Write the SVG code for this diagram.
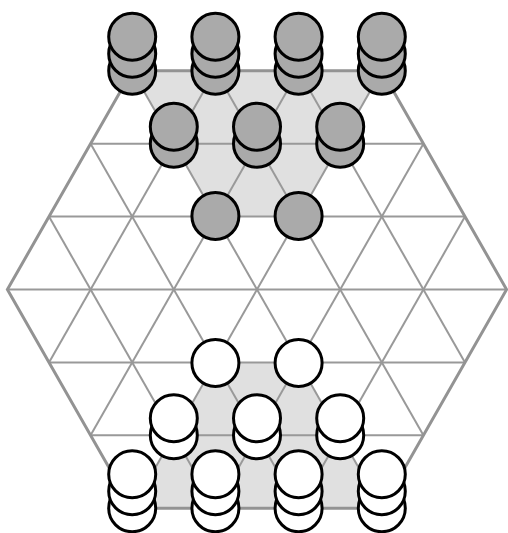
<svg xmlns="http://www.w3.org/2000/svg" width="508" height="533" viewBox="0 0 508 533">
<style>
.zone{fill:#e0e0e0;stroke:none}
.grid line{stroke:#999999;stroke-width:2}
.edge{fill:none;stroke:#939393;stroke-width:3;stroke-linejoin:miter}
.g circle{fill:#aaaaaa;stroke:#000;stroke-width:3}
.w circle{fill:#ffffff;stroke:#000;stroke-width:3}
</style>
<rect width="508" height="533" fill="#ffffff"/>
<g id="zones">
<polygon class="zone" points="132.2,70.8 381.8,70.8 298.6,216.6 215.4,216.6"/>
<polygon class="zone" points="215.4,362.4 298.6,362.4 381.8,508.2 132.2,508.2"/>
</g>
<g id="connectors" class="grid">
<line x1="90.6" y1="143.7" x2="423.4" y2="143.7"/>
<line x1="49" y1="216.6" x2="465" y2="216.6"/>
<line x1="7.4" y1="289.5" x2="506.6" y2="289.5"/>
<line x1="49" y1="362.4" x2="465" y2="362.4"/>
<line x1="90.6" y1="435.3" x2="423.4" y2="435.3"/>
<line x1="49" y1="216.6" x2="215.4" y2="508.2"/>
<line x1="90.6" y1="143.7" x2="298.6" y2="508.2"/>
<line x1="132.2" y1="70.8" x2="381.8" y2="508.2"/>
<line x1="215.4" y1="70.8" x2="423.4" y2="435.3"/>
<line x1="298.6" y1="70.8" x2="465" y2="362.4"/>
<line x1="215.4" y1="70.8" x2="49" y2="362.4"/>
<line x1="298.6" y1="70.8" x2="90.6" y2="435.3"/>
<line x1="381.8" y1="70.8" x2="132.2" y2="508.2"/>
<line x1="423.4" y1="143.7" x2="215.4" y2="508.2"/>
<line x1="465" y1="216.6" x2="298.6" y2="508.2"/>
<polygon class="edge" points="132.2,70.8 381.8,70.8 506.6,289.5 381.8,508.2 132.2,508.2 7.4,289.5"/>
</g>
<g id="g1" class="g"><circle cx="132.2" cy="70.8" r="23.5"/><circle cx="132.2" cy="53.8" r="23.5"/><circle cx="132.2" cy="36.8" r="23.5"/></g>
<g id="g2" class="g"><circle cx="215.4" cy="70.8" r="23.5"/><circle cx="215.4" cy="53.8" r="23.5"/><circle cx="215.4" cy="36.8" r="23.5"/></g>
<g id="g3" class="g"><circle cx="298.6" cy="70.8" r="23.5"/><circle cx="298.6" cy="53.8" r="23.5"/><circle cx="298.6" cy="36.8" r="23.5"/></g>
<g id="g4" class="g"><circle cx="381.8" cy="70.8" r="23.5"/><circle cx="381.8" cy="53.8" r="23.5"/><circle cx="381.8" cy="36.8" r="23.5"/></g>
<g id="g5" class="g"><circle cx="173.8" cy="143.7" r="23.5"/><circle cx="173.8" cy="126.7" r="23.5"/></g>
<g id="g6" class="g"><circle cx="257" cy="143.7" r="23.5"/><circle cx="257" cy="126.7" r="23.5"/></g>
<g id="g7" class="g"><circle cx="340.2" cy="143.7" r="23.5"/><circle cx="340.2" cy="126.7" r="23.5"/></g>
<g id="g8" class="g"><circle cx="215.4" cy="216" r="23.5"/></g>
<g id="g9" class="g"><circle cx="298.6" cy="216" r="23.5"/></g>
<g id="w1" class="w"><circle cx="215.4" cy="363" r="23.5"/></g>
<g id="w2" class="w"><circle cx="298.6" cy="363" r="23.5"/></g>
<g id="w3" class="w"><circle cx="173.8" cy="435.3" r="23.5"/><circle cx="173.8" cy="418.3" r="23.5"/></g>
<g id="w4" class="w"><circle cx="257" cy="435.3" r="23.5"/><circle cx="257" cy="418.3" r="23.5"/></g>
<g id="w5" class="w"><circle cx="340.2" cy="435.3" r="23.5"/><circle cx="340.2" cy="418.3" r="23.5"/></g>
<g id="w6" class="w"><circle cx="132.2" cy="508.2" r="23.5"/><circle cx="132.2" cy="491.2" r="23.5"/><circle cx="132.2" cy="474.2" r="23.5"/></g>
<g id="w7" class="w"><circle cx="215.4" cy="508.2" r="23.5"/><circle cx="215.4" cy="491.2" r="23.5"/><circle cx="215.4" cy="474.2" r="23.5"/></g>
<g id="w8" class="w"><circle cx="298.6" cy="508.2" r="23.5"/><circle cx="298.6" cy="491.2" r="23.5"/><circle cx="298.6" cy="474.2" r="23.5"/></g>
<g id="w9" class="w"><circle cx="381.8" cy="508.2" r="23.5"/><circle cx="381.8" cy="491.2" r="23.5"/><circle cx="381.8" cy="474.2" r="23.5"/></g>
</svg>
